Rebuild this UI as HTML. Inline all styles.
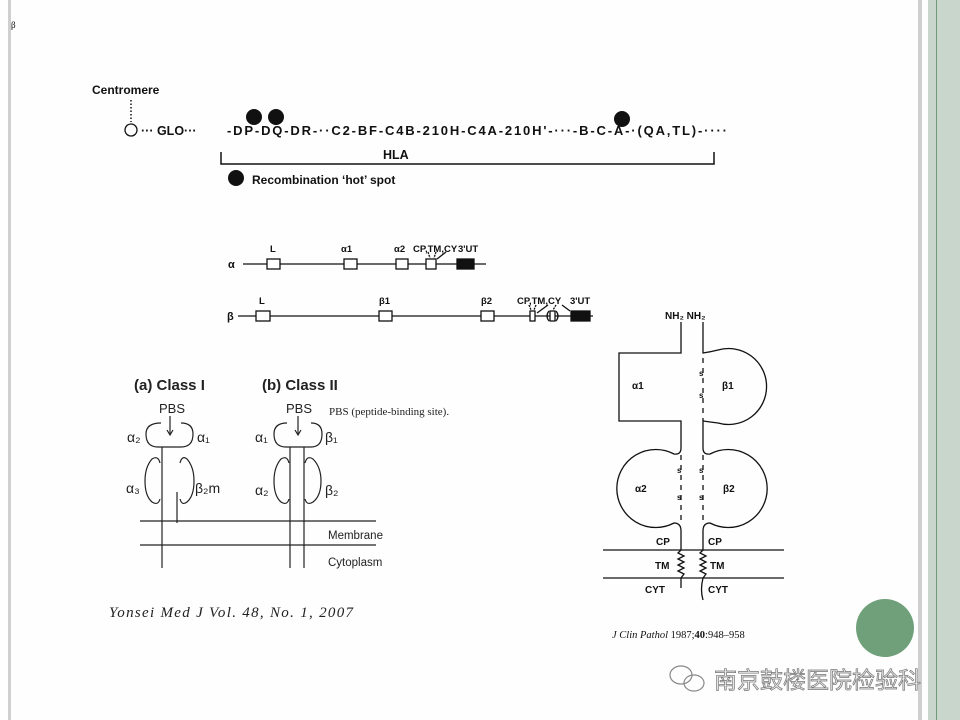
<!DOCTYPE html>
<html><head><meta charset="utf-8"><style>
html,body{margin:0;padding:0;background:#fff;}
svg{display:block}
</style></head><body>
<svg width="960" height="720" viewBox="0 0 960 720" xmlns="http://www.w3.org/2000/svg" font-family="Liberation Sans, sans-serif">
<rect width="960" height="720" fill="#fefefe"/>
<rect x="8" y="0" width="3" height="720" fill="#cfcfcf"/>
<rect x="918" y="0" width="4" height="720" fill="#cfcfcf"/>
<rect x="928" y="0" width="32" height="720" fill="#c8d6cb"/>
<rect x="936" y="0" width="1" height="720" fill="#6f9a78"/>
<text x="11" y="28" font-size="9" font-family="Liberation Serif, serif">β</text>

<g font-weight="bold" fill="#111">
<text x="92" y="94" font-size="12">Centromere</text>
<line x1="131" y1="100" x2="131" y2="122" stroke="#111" stroke-width="1.5" stroke-dasharray="1.5,2"/>
<circle cx="131" cy="130" r="6" fill="none" stroke="#111" stroke-width="1.3"/>
<text x="141" y="135" font-size="12.5">··· GLO···</text>
<text x="227" y="135" font-size="13" textLength="500" lengthAdjust="spacing">-DP-DQ-DR-··C2-BF-C4B-210H-C4A-210H'-···-B-C-A-·(QA,TL)-····</text>
<circle cx="254" cy="117" r="8" fill="#111"/>
<circle cx="276" cy="117" r="8" fill="#111"/>
<circle cx="622" cy="119" r="8" fill="#111"/>
<path d="M221 152 V164 H714 V152" fill="none" stroke="#111" stroke-width="1.5"/>
<text x="383" y="159" font-size="12.5">HLA</text>
<circle cx="236" cy="178" r="8" fill="#111"/>
<text x="252" y="184" font-size="12">Recombination ‘hot’ spot</text>
</g>

<g stroke="#111" stroke-width="1.3" fill="#fff">
<line x1="243" y1="264" x2="486" y2="264"/>
<rect x="267" y="259" width="13" height="10"/>
<rect x="344" y="259" width="13" height="10"/>
<rect x="396" y="259" width="12" height="10"/>
<rect x="426" y="259" width="10" height="10"/>
<rect x="457" y="259" width="17" height="10" fill="#111"/>
<line x1="428" y1="252" x2="430" y2="258" stroke-dasharray="2,1"/>
<line x1="436" y1="252" x2="434" y2="258" stroke-dasharray="2,1"/>
<line x1="446" y1="252" x2="437" y2="259"/>
<line x1="238" y1="316" x2="593" y2="316"/>
<rect x="256" y="311" width="14" height="10"/>
<rect x="379" y="311" width="13" height="10"/>
<rect x="481" y="311" width="13" height="10"/>
<rect x="530" y="311" width="5" height="10"/>
<rect x="550" y="311" width="5" height="10"/>
<rect x="571" y="311" width="19" height="10" fill="#111"/>
<path d="M549 311 Q545 316 549 321 M556 311 Q560 316 556 321" fill="none"/>
<line x1="529" y1="305" x2="531" y2="310" stroke-dasharray="2,1"/>
<line x1="536" y1="305" x2="534" y2="310" stroke-dasharray="2,1"/>
<line x1="548" y1="305" x2="537" y2="313"/>
<line x1="556" y1="305" x2="553" y2="310" stroke-dasharray="2,1"/>
<line x1="562" y1="305" x2="570" y2="311"/>
</g>
<g font-weight="bold" font-size="9.5" fill="#111">
<text x="228" y="268" font-size="11">α</text>
<text x="270" y="252">L</text>
<text x="341" y="252">α1</text>
<text x="394" y="252">α2</text>
<text x="413" y="252">CP,TM,CY</text>
<text x="458" y="252">3'UT</text>
<text x="227" y="320" font-size="11">β</text>
<text x="259" y="304">L</text>
<text x="379" y="304">β1</text>
<text x="481" y="304">β2</text>
<text x="517" y="304">CP,TM,CY</text>
<text x="570" y="304">3'UT</text>
</g>

<g fill="#222">
<text x="134" y="390" font-weight="bold" font-size="15">(a) Class I</text>
<text x="262" y="390" font-weight="bold" font-size="15">(b) Class II</text>
<text x="159" y="413" font-size="13">PBS</text>
<text x="286" y="413" font-size="13">PBS</text>
<text x="127" y="442" font-size="14">α₂</text>
<text x="197" y="442" font-size="14">α₁</text>
<text x="126" y="493" font-size="14">α₃</text>
<text x="195" y="493" font-size="14">β₂m</text>
<text x="255" y="442" font-size="14">α₁</text>
<text x="325" y="442" font-size="14">β₁</text>
<text x="255" y="495" font-size="14">α₂</text>
<text x="325" y="495" font-size="14">β₂</text>
<text x="328" y="539" font-size="11.5">Membrane</text>
<text x="328" y="566" font-size="11.5">Cytoplasm</text>
</g>
<g stroke="#222" stroke-width="1.2" fill="none">
<line x1="170" y1="416" x2="170" y2="434"/><path d="M167 430 L170 435 L173 430"/>
<line x1="298" y1="416" x2="298" y2="434"/><path d="M295 430 L298 435 L301 430"/>
<path d="M161 423 Q146 423 146 434 Q146 447 158 447 H181 Q193 447 193 434 Q193 423 181 423"/>
<line x1="162" y1="447" x2="162" y2="568"/>
<path d="M160 463 Q158 455 152 459 Q145 467 145 481 Q145 496 152 502 Q158 506 160 499"/>
<path d="M180 463 Q182 455 187 459 Q194 467 194 481 Q194 496 187 502 Q182 506 180 499"/>
<line x1="177" y1="492" x2="177" y2="523"/>
<path d="M287 423 Q274 423 274 434 Q274 447 286 447 H311 Q322 447 322 434 Q322 423 311 423"/>
<line x1="290" y1="447" x2="290" y2="568"/>
<line x1="304" y1="447" x2="304" y2="568"/>
<path d="M289 463 Q287 455 281 459 Q274 467 274 481 Q274 496 281 502 Q287 506 289 499"/>
<path d="M305 463 Q307 455 313 459 Q321 467 321 481 Q321 496 313 502 Q307 506 305 499"/>
<line x1="140" y1="521" x2="376" y2="521"/>
<line x1="140" y1="545" x2="376" y2="545"/>
</g>
<text x="329" y="415" font-size="11" font-family="Liberation Serif, serif" fill="#222">PBS (peptide-binding site).</text>
<text x="109" y="617" font-size="15" font-style="italic" font-family="Liberation Serif, serif" fill="#222" textLength="244" lengthAdjust="spacing">Yonsei Med J   Vol. 48, No. 1, 2007</text>

<g stroke="#111" stroke-width="1.3" fill="none">
<path d="M681 322 V353 H619 V421 H681 V448"/>
<path d="M703 322 V353 Q710 352 718 350 A38 38 0 1 1 718 423 Q710 422 703 421 V448"/>
<path d="M681 448 Q681 455 674 454 A39 39 0 1 0 674 523 Q681 523 681 531 V550"/>
<path d="M703 448 Q703 455 710 454 A39 39 0 1 1 710 523 Q703 523 703 531 V550"/>
<line x1="703" y1="358" x2="703" y2="421" stroke-dasharray="5,5"/>
<line x1="681" y1="455" x2="681" y2="525" stroke-dasharray="5,5"/>
<line x1="703" y1="455" x2="703" y2="525" stroke-dasharray="5,5"/>
<line x1="603" y1="550" x2="784" y2="550"/>
<line x1="603" y1="578" x2="784" y2="578"/>
<path d="M681 550 l-3 3 l6 3 l-6 3 l6 3 l-6 3 l6 3 l-6 3 l6 3 l-3 4 V588"/>
<path d="M703 550 l-3 3 l6 3 l-6 3 l6 3 l-6 3 l6 3 l-6 3 l6 3 l-3 4 Q700 590 703 600"/>
</g>
<g font-weight="bold" fill="#111" font-size="10">
<text x="665" y="319">NH₂ NH₂</text>
<text x="632" y="389">α1</text>
<text x="722" y="389">β1</text>
<text x="635" y="492">α2</text>
<text x="723" y="492">β2</text>
<text x="699" y="376" font-size="8">s</text><text x="699" y="398" font-size="8">s</text>
<text x="677" y="473" font-size="8">s</text><text x="677" y="500" font-size="8">s</text>
<text x="699" y="473" font-size="8">s</text><text x="699" y="500" font-size="8">s</text>
<text x="656" y="545">CP</text><text x="708" y="545">CP</text>
<text x="655" y="569">TM</text><text x="710" y="569">TM</text>
<text x="645" y="593">CYT</text><text x="708" y="593">CYT</text>
</g>
<text x="612" y="638" font-size="10.5" font-family="Liberation Serif, serif" fill="#111"><tspan font-style="italic">J Clin Pathol</tspan> 1987;<tspan font-weight="bold">40</tspan>:948–958</text>

<circle cx="885" cy="628" r="29" fill="#6fa079"/>
<g fill="none" stroke="#888" stroke-width="1.2">
<ellipse cx="681" cy="675" rx="11" ry="9"/>
<ellipse cx="694" cy="683" rx="10" ry="8"/>
</g>
<text x="714" y="688" font-size="23" fill="#e8e8e8" stroke="#777" stroke-width="0.7" font-family="Liberation Sans, Noto Sans CJK SC, sans-serif">南京鼓楼医院检验科</text>
</svg>
</body></html>
